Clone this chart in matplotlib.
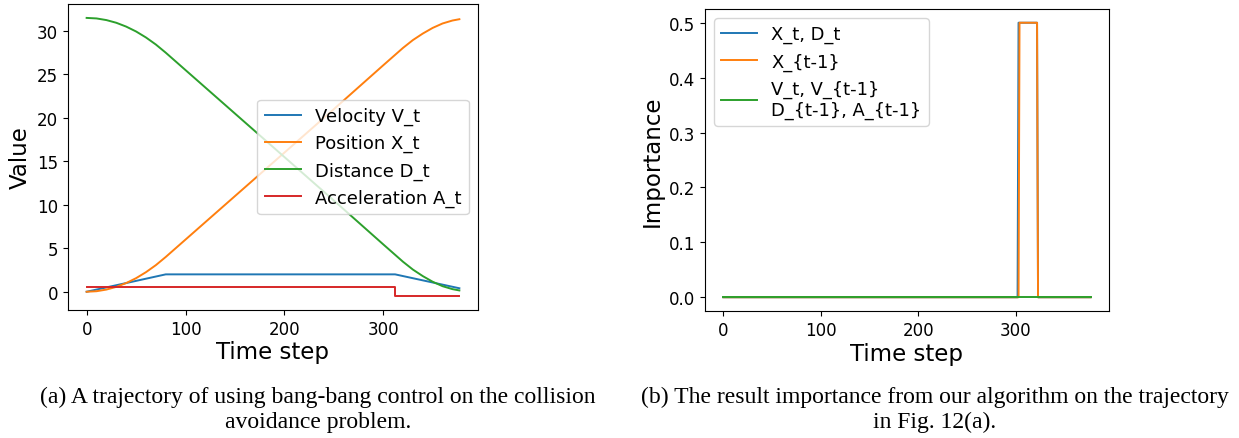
import matplotlib
matplotlib.use("Agg")
import matplotlib.pyplot as plt

# ── Data ───────────────────────────────────────────────────────────────────
# panel (a): trajectory under bang-bang control
vel_t = [0, 80, 312, 377]
vel = [0.0, 2.0, 2.0, 0.4]

pos_t = [0, 10, 20, 30, 40, 50, 60, 70, 80, 100, 150, 200, 250, 300,
         312, 320, 330, 340, 350, 360, 370, 377]
pos = [0.0, 0.06, 0.25, 0.56, 1.0, 1.56, 2.25, 3.06, 4.0, 6.0, 11.0, 16.0,
       21.0, 26.05, 27.25, 28.05, 28.95, 29.7, 30.35, 30.86, 31.2, 31.35]

dist_t = pos_t
dist = [31.5, 31.44, 31.25, 30.94, 30.5, 29.94, 29.25, 28.44, 27.5, 25.5,
        20.5, 15.5, 10.5, 5.45, 4.25, 3.45, 2.55, 1.8, 1.15, 0.64, 0.3, 0.15]

acc_t = [0, 312, 377]
acc = [0.5, -0.5, -0.5]

# panel (b): importance per time step
imp_xd_t = [0, 302, 303, 322, 323, 377]
imp_xd = [0.0, 0.0, 0.5, 0.5, 0.0, 0.0]
imp_xprev_t = [0, 303, 304, 322, 323, 377]
imp_xprev = [0.0, 0.0, 0.5, 0.5, 0.0, 0.0]
imp_rest_t = [0, 377]
imp_rest = [0.0, 0.0]

C_BLUE, C_ORANGE, C_GREEN, C_RED = "#1f77b4", "#ff7f0e", "#2ca02c", "#d62728"
LW = 1.4
LABEL_FS = 16.5
TICK_FS = 12

fig = plt.figure(figsize=(12.39, 4.39), dpi=100)

# ── (a) trajectory ─────────────────────────────────────────────────────────
ax1 = fig.add_axes([68 / 1239, 128 / 439, 410 / 1239, 306 / 439])
ax1.plot(vel_t, vel, color=C_BLUE, lw=LW, label="Velocity V_t")
ax1.plot(pos_t, pos, color=C_ORANGE, lw=LW, label="Position X_t")
ax1.plot(dist_t, dist, color=C_GREEN, lw=LW, label="Distance D_t")
ax1.plot(acc_t, acc, color=C_RED, lw=LW, drawstyle="steps-post",
         label="Acceleration A_t")
ax1.set_xlabel("Time step", fontsize=LABEL_FS, labelpad=2)
ax1.set_ylabel("Value", fontsize=LABEL_FS, labelpad=4)
ax1.tick_params(labelsize=TICK_FS)
ax1.legend(loc="center right", fontsize=13)

# ── (b) importance ─────────────────────────────────────────────────────────
ax2 = fig.add_axes([705 / 1239, 127 / 439, 404 / 1239, 302 / 439])
ax2.plot(imp_xd_t, imp_xd, color=C_BLUE, lw=LW, label="X_t, D_t")
ax2.plot(imp_xprev_t, imp_xprev, color=C_ORANGE, lw=LW, label="X_{t-1}")
ax2.plot(imp_rest_t, imp_rest, color=C_GREEN, lw=LW,
         label="V_t, V_{t-1}\nD_{t-1}, A_{t-1}")
ax2.set_xlabel("Time step", fontsize=LABEL_FS, labelpad=2)
ax2.set_ylabel("Importance", fontsize=LABEL_FS, labelpad=4)
ax2.tick_params(labelsize=TICK_FS)
ax2.legend(loc="upper left", fontsize=12.9)

# ── captions ───────────────────────────────────────────────────────────────
cap = dict(fontsize=17, family="Liberation Serif", ha="center", va="center",
           multialignment="center", linespacing=1.2)
fig.text(318 / 1239, 1 - 410 / 439,
         "(a) A trajectory of using bang-bang control on the collision\n"
         "avoidance problem.", **cap)
fig.text(935 / 1239, 1 - 410 / 439,
         "(b) The result importance from our algorithm on the trajectory\n"
         "in Fig. 12(a).", **cap)

fig.savefig("out.png", dpi=100)
